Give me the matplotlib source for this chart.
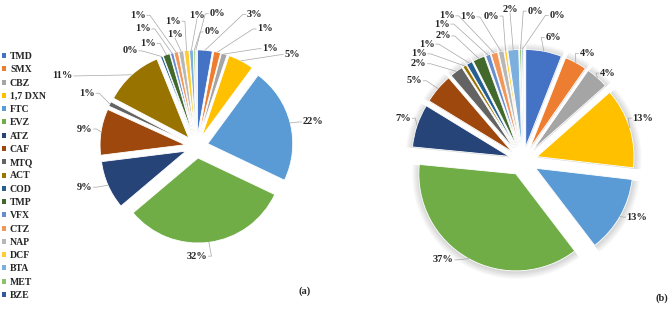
import matplotlib

matplotlib.use("Agg")
import matplotlib.patches as mpatches
import matplotlib.pyplot as plt
import numpy as np

plt.rcParams["font.family"] = ["Liberation Serif", "DejaVu Serif"]

W, H = 669, 309

CATEGORIES = ["TMD", "SMX", "CBZ", "1,7 DXN", "FTC", "EVZ", "ATZ", "CAF", "MTQ", "ACT",
              "COD", "TMP", "VFX", "CTZ", "NAP", "DCF", "BTA", "MET", "BZE"]

# share of each compound (%), panel (a) and panel (b)
SHARE_A = [2.8, 1.3, 1.1, 4.9, 22.0, 31.8, 9.2, 8.8, 0.9, 11.2,
           0.4, 1.3, 0.6, 0.8, 0.9, 0.9, 0.7, 0.3, 0.2]
SHARE_B = [6.0, 3.7, 3.8, 13.4, 12.8, 37.0, 7.2, 5.0, 2.2, 0.6,
           1.0, 2.0, 0.8, 1.1, 0.9, 0.4, 1.8, 0.3, 0.2]

COLORS = ["#4472C4", "#ED7D31", "#A5A5A5", "#FFC000", "#5B9BD5", "#70AD47", "#264478",
          "#9E480E", "#636363", "#997300", "#255E91", "#43682B", "#698ED0", "#F1975A",
          "#B7B7B7", "#FFCD33", "#7CAFDD", "#8CC168", "#335AA1"]

# data-label placement: angle clockwise from 12 o'clock, distance in pie radii
LABEL_ANG_A = [23.8, 30.2, 37.0, 46.2, 78.1, 179.7, 250.0, 278.9, 296.0, 297.8,
               325.2, 334.9, 335.5, 336.0, 349.1, 349.4, 0.2, 7.7, 8.8]
LABEL_DIST_A = [1.70, 1.60, 1.44, 1.56, 1.40, 1.29, 1.40, 1.33, 1.43, 1.78,
                1.37, 1.34, 1.52, 1.69, 1.34, 1.50, 1.54, 1.36, 1.58]
LABEL_ANG_B = [13.7, 30.9, 44.0, 70.3, 116.2, 218.9, 289.7, 306.5, 313.0, 315.8,
               320.6, 327.4, 329.4, 332.3, 339.1, 347.6, 355.1, 4.6, 13.2]
LABEL_DIST_B = [1.31, 1.29, 1.26, 1.31, 1.31, 1.31, 1.31, 1.39, 1.47, 1.54,
                1.56, 1.53, 1.64, 1.69, 1.59, 1.53, 1.57, 1.55, 1.54]

TXT = "#262626"
LEADER = "#A6A6A6"

fig = plt.figure(figsize=(W / 100, H / 100), dpi=100)
ax = fig.add_axes([0, 0, 1, 1])


def draw_pie(values, center, radius, gap, lab_ang, lab_dist, shadow=False):
    n = len(values)
    cx, cy = center
    if shadow:
        for k in range(1, 9):
            ax.pie(values, colors=["#000000"] * n, radius=radius + k * 0.9,
                   center=(cx + 0.5, cy - 1), explode=[gap] * n, startangle=90,
                   counterclock=False, wedgeprops=dict(alpha=0.018, linewidth=0, zorder=1))
    wedges, _ = ax.pie(values, colors=COLORS, radius=radius, center=center,
                       explode=[gap] * n, startangle=90, counterclock=False,
                       wedgeprops=dict(edgecolor="white", linewidth=0.6, zorder=2))
    total = sum(values)
    items = []
    for w, v, a, d in zip(wedges, values, lab_ang, lab_dist):
        t = np.deg2rad(90 - a)
        lx, ly = cx + d * radius * np.cos(t), cy + d * radius * np.sin(t)
        txt = ax.text(lx, ly, f"{round(v / total * 100):.0f}%", ha="center", va="center",
                      fontsize=7.5, fontweight="bold", color=TXT, zorder=4)
        m = np.deg2rad((w.theta1 + w.theta2) / 2)
        ex = w.center[0] + radius * np.cos(m)
        ey = w.center[1] + radius * np.sin(m)
        items.append((txt, lx, ly, ex, ey))
    return items


items = draw_pie(SHARE_A, (196.5, H - 146.5), 85, 11.6, LABEL_ANG_A, LABEL_DIST_A)
items += draw_pie(SHARE_B, (523, H - 161), 97, 14.7, LABEL_ANG_B, LABEL_DIST_B, shadow=True)

ax.set_xlim(0, W)
ax.set_ylim(0, H)
ax.set_aspect("auto")
ax.axis("off")

# leader lines, attached to the side of each label facing its slice
fig.canvas.draw()
renderer = fig.canvas.get_renderer()
for txt, lx, ly, ex, ey in items:
    bb = txt.get_window_extent(renderer)
    half_w = bb.width / 2
    half_h = bb.height / 2
    if abs(ex - lx) > half_w + 1:
        side = np.sign(ex - lx)
        sx = lx + side * (half_w + 1)
        xs = [sx, sx + side * 3, ex]
        ys = [ly, ly, ey]
    else:
        side = np.sign(ey - ly)
        xs = [lx, ex]
        ys = [ly + side * (half_h - 1), ey]
    ax.plot(xs, ys, color=LEADER, lw=0.5, zorder=3)

handles = [mpatches.Patch(facecolor=c, edgecolor="none", label=l)
           for c, l in zip(COLORS, CATEGORIES)]
ax.legend(handles=handles, loc="upper left", bbox_to_anchor=(0.003, 1 - 52 / H),
          frameon=False, prop=dict(weight="bold", size=7), handlelength=0.42,
          handleheight=0.42, handletextpad=0.4, labelspacing=0.44,
          borderaxespad=0, borderpad=0, labelcolor=TXT)

ax.text(305, H - 291, "(a)", ha="center", va="center", fontsize=7.5, fontweight="bold", color=TXT)
ax.text(662, H - 298, "(b)", ha="center", va="center", fontsize=7.5, fontweight="bold", color=TXT)

fig.savefig("out.png", dpi=100)
